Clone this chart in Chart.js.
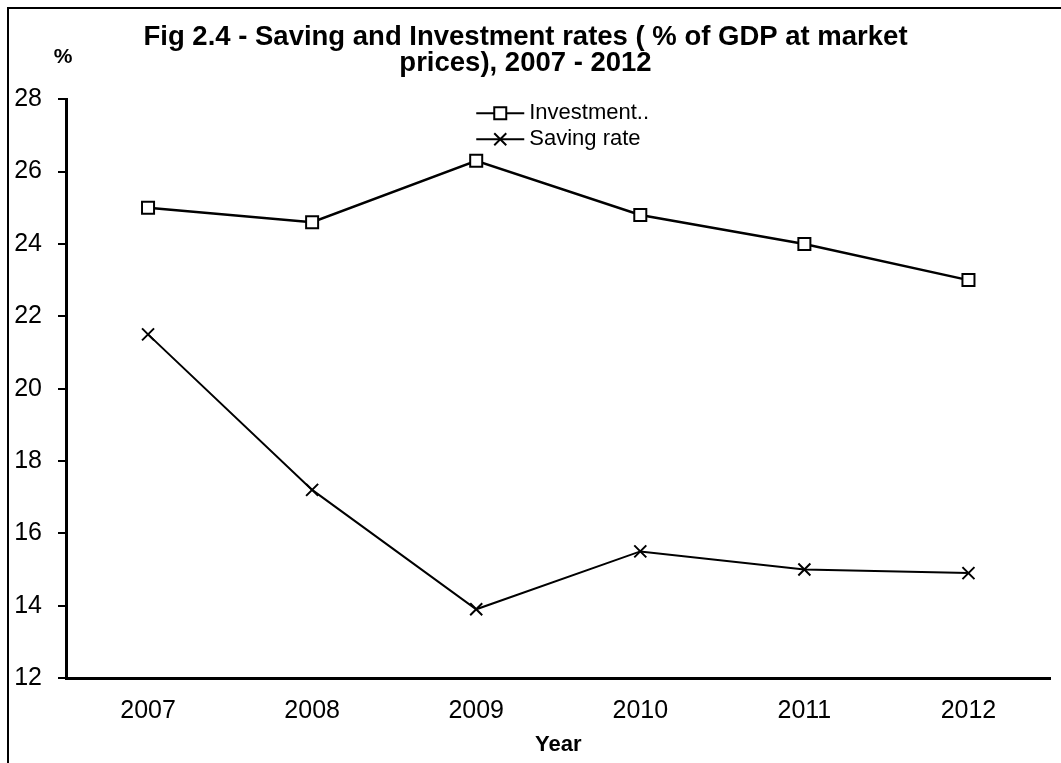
<!DOCTYPE html>
<html>
<head>
<meta charset="utf-8">
<script src="https://cdn.jsdelivr.net/npm/chart.js@4.4.1/dist/chart.umd.min.js"></script>
<style>
  html, body { margin: 0; padding: 0; background: #fff; overflow: hidden; }
  #wrap { position: absolute; left: 0; top: 0; width: 1061px; height: 763px; }
  #frame { position: absolute; left: 7px; top: 7px; width: 1100px; height: 800px;
           border-left: 2px solid #000; border-top: 2px solid #000; pointer-events: none; }
</style>
</head>
<body>
<div id="wrap"><canvas id="savingChart" width="1061" height="763"></canvas></div>
<div id="frame"></div>
<script>
const years = ['2007', '2008', '2009', '2010', '2011', '2012'];
const investmentRate = [25.0, 24.6, 26.3, 24.8, 24.0, 23.0];
const savingRate = [21.5, 17.2, 13.9, 15.5, 15.0, 14.9];
const seriesNames = ['Investment..', 'Saving rate'];
const titleLines = ['Fig 2.4 - Saving and Investment rates ( % of GDP at market', 'prices), 2007 - 2012'];

const FONT = '"Liberation Sans", Arial, sans-serif';

// legend and the "%" unit label, drawn by hand to sit inside the plot
const extras = {
  id: 'extras',
  afterDraw(chart) {
    const ctx = chart.ctx;
    const area = chart.chartArea;
    ctx.save();
    ctx.fillStyle = '#000';
    ctx.font = 'bold 21px ' + FONT;
    ctx.textAlign = 'center';
    ctx.textBaseline = 'middle';
    ctx.fillText('%', 63, 57);

    const x0 = (area.left + area.right) / 2 - 82;
    const rows = [area.top + 14, area.top + 40];
    chart.data.datasets.forEach((ds, i) => {
      const y = rows[i];
      ctx.strokeStyle = '#000';
      ctx.lineWidth = 2;
      ctx.beginPath();
      ctx.moveTo(x0, y);
      ctx.lineTo(x0 + 48, y);
      ctx.stroke();
      const cx = x0 + 24;
      if (ds.pointStyle === 'rect') {
        ctx.fillStyle = '#fff';
        ctx.fillRect(cx - 6, y - 6, 12, 12);
        ctx.strokeRect(cx - 6, y - 6, 12, 12);
      } else {
        ctx.beginPath();
        ctx.moveTo(cx - 6, y - 6); ctx.lineTo(cx + 6, y + 6);
        ctx.moveTo(cx + 6, y - 6); ctx.lineTo(cx - 6, y + 6);
        ctx.stroke();
      }
      ctx.fillStyle = '#000';
      ctx.font = '22px ' + FONT;
      ctx.textAlign = 'left';
      ctx.fillText(ds.label, x0 + 53, y);
    });
    ctx.restore();
  }
};

new Chart(document.getElementById('savingChart'), {
  type: 'line',
  data: {
    labels: years,
    datasets: [{
      label: seriesNames[0],
      data: investmentRate,
      borderColor: '#000',
      borderWidth: 2.5,
      pointStyle: 'rect',
      pointRadius: 8.5,
      pointBorderWidth: 2,
      pointBorderColor: '#000',
      pointBackgroundColor: '#fff',
      tension: 0
    }, {
      label: seriesNames[1],
      data: savingRate,
      borderColor: '#000',
      borderWidth: 2,
      pointStyle: 'crossRot',
      pointRadius: 8.5,
      pointBorderWidth: 2,
      pointBorderColor: '#000',
      tension: 0
    }]
  },
  options: {
    responsive: false,
    animation: false,
    layout: { padding: { left: 0, right: 10, top: 0, bottom: 0 } },
    plugins: {
      legend: { display: false },
      tooltip: { enabled: false },
      title: {
        display: true,
        text: titleLines,
        color: '#000',
        font: { family: FONT, size: 27.5, weight: 'bold', lineHeight: 0.95 },
        padding: { top: 24, bottom: 23 }
      }
    },
    scales: {
      x: {
        offset: true,
        grid: { display: true, drawOnChartArea: false, drawTicks: false },
        border: { display: true, color: '#000', width: 3 },
        ticks: { color: '#000', font: { family: FONT, size: 25 }, padding: 18 },
        title: {
          display: true,
          text: 'Year',
          color: '#000',
          font: { family: FONT, size: 22, weight: 'bold' },
          padding: { top: 0, bottom: 5 }
        },
        afterFit(scale) { scale.height = 85; }
      },
      y: {
        min: 12,
        max: 28,
        grid: { display: true, drawOnChartArea: false, drawTicks: true, tickLength: 8, color: '#000', lineWidth: 2 },
        border: { display: true, color: '#000', width: 3 },
        ticks: { stepSize: 2, color: '#000', font: { family: FONT, size: 25 }, padding: 16 },
        afterFit(scale) { scale.width = 66; }
      }
    }
  },
  plugins: [extras]
});
</script>
</body>
</html>
